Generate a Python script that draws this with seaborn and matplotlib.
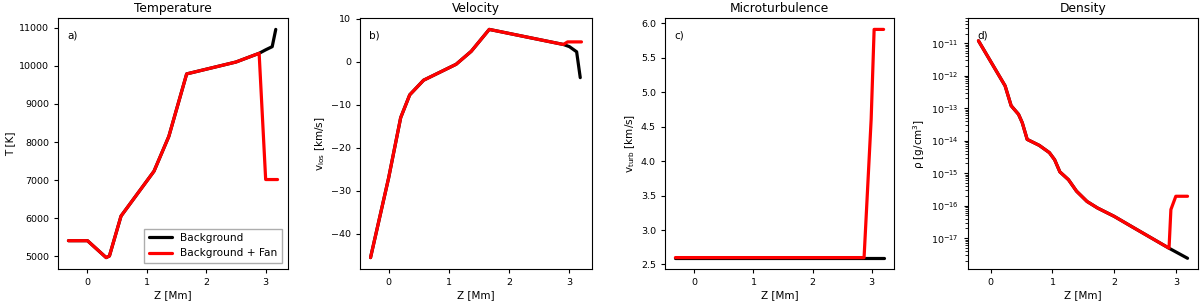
import numpy as np
import pandas as pd
import seaborn as sns
import matplotlib
matplotlib.use("Agg")
import matplotlib.pyplot as plt

# --- data (Z in Mm) ---
z_temp_bg = [-0.32, 0.0, 0.315, 0.37, 0.565, 1.12, 1.37, 1.67, 2.5, 2.89, 3.0, 3.11, 3.17]
temp_bg = [5410, 5410, 4966, 5010, 6056, 7233, 8148, 9788, 10100, 10329, 10420, 10503, 10956]
z_temp_fan = [-0.32, 0.0, 0.315, 0.37, 0.565, 1.12, 1.37, 1.67, 2.5, 2.89, 3.0, 3.2]
temp_fan = [5410, 5410, 4966, 5010, 6056, 7233, 8148, 9788, 10100, 10329, 7015, 7015]

z_vel_bg = [-0.3, 0.0, 0.2, 0.35, 0.58, 1.12, 1.37, 1.67, 2.9, 3.0, 3.12, 3.18]
vel_bg = [-45.5, -27.0, -13.0, -7.7, -4.3, -0.6, 2.4, 7.5, 4.0, 3.5, 2.3, -3.7]
z_vel_fan = [-0.3, 0.0, 0.2, 0.35, 0.58, 1.12, 1.37, 1.67, 2.9, 2.97, 3.2]
vel_fan = [-45.5, -27.0, -13.0, -7.7, -4.3, -0.6, 2.4, 7.5, 4.0, 4.6, 4.6]

z_turb_bg = [-0.32, 2.87, 3.2]
turb_bg = [2.6, 2.6, 2.6]
z_turb_fan = [-0.32, 2.87, 2.99, 3.04, 3.2]
turb_fan = [2.6, 2.6, 4.61, 5.91, 5.91]

z_rho_bg = [-0.2, 0.232, 0.33, 0.45, 0.51, 0.59, 0.786, 0.95, 1.035, 1.12, 1.26,
            1.39, 1.56, 1.73, 2.0, 2.28, 2.89, 3.19]
rho_bg = [1.2e-11, 4.9e-13, 1.2e-13, 6.5e-14, 3.6e-14, 1.1e-14, 7.2e-15, 4.3e-15,
          2.6e-15, 1.1e-15, 6.3e-16, 2.8e-16, 1.35e-16, 8.5e-17, 4.7e-17, 2.3e-17,
          4.9e-18, 2.4e-18]
z_rho_fan = [-0.2, 0.232, 0.33, 0.45, 0.51, 0.59, 0.786, 0.95, 1.035, 1.12, 1.26,
             1.39, 1.56, 1.73, 2.0, 2.28, 2.89, 2.92, 3.0, 3.19]
rho_fan = [1.2e-11, 4.9e-13, 1.2e-13, 6.5e-14, 3.6e-14, 1.1e-14, 7.2e-15, 4.3e-15,
           2.6e-15, 1.1e-15, 6.3e-16, 2.8e-16, 1.35e-16, 8.5e-17, 4.7e-17, 2.3e-17,
           4.9e-18, 7.6e-17, 1.95e-16, 1.95e-16]

panels = [
    ("Temperature", "T [K]", "a)", z_temp_bg, temp_bg, z_temp_fan, temp_fan),
    ("Velocity", r"v$_{\rm los}$ [km/s]", "b)", z_vel_bg, vel_bg, z_vel_fan, vel_fan),
    ("Microturbulence", r"v$_{\rm turb}$ [km/s]", "c)", z_turb_bg, turb_bg, z_turb_fan, turb_fan),
    ("Density", r"$\rm\rho$ [g/cm$^3$]", "d)", z_rho_bg, rho_bg, z_rho_fan, rho_fan),
]

sns.set_style("ticks")
plt.rcParams["font.family"] = ["DejaVu Sans"]
plt.rcParams.update({
    "xtick.labelsize": 6.8, "ytick.labelsize": 6.8,
    "xtick.major.size": 3, "ytick.major.size": 3,
    "text.color": "black", "axes.labelcolor": "black",
    "xtick.color": "black", "ytick.color": "black",
    "axes.edgecolor": "black",
})

fig = plt.figure(figsize=(12, 3.04), dpi=100)
lefts = [58, 360, 665, 968]
widths = [230, 232, 229, 230]

for i, (title, ylab, tag, zb, yb, zf, yf) in enumerate(panels):
    ax = fig.add_axes([lefts[i] / 1200, 35 / 304, widths[i] / 1200, 251 / 304])
    sns.lineplot(x=zb, y=yb, color="black", lw=2.3, sort=False, estimator=None,
                 ax=ax, label="Background")
    sns.lineplot(x=zf, y=yf, color="red", lw=2.3, sort=False, estimator=None,
                 ax=ax, label="Background + Fan")
    ax.set_title(title, fontsize=8.8, pad=4)
    ax.set_xlabel("Z [Mm]", fontsize=7.5, labelpad=2)
    ax.set_ylabel(ylab, fontsize=7.5, labelpad=3)
    ax.set_xticks([0, 1, 2, 3])
    ax.text(0.04, 0.93, tag, transform=ax.transAxes, fontsize=7.5, va="center")
    for s in ax.spines.values():
        s.set_linewidth(0.8)
    if i == 0:
        ax.legend(loc="lower right", fontsize=7.6, fancybox=False, edgecolor="0.6",
                  handlelength=2.2, borderaxespad=0.6)
    else:
        ax.get_legend().remove()
    if i == 1:
        ax.set_yticks([10, 0, -10, -20, -30, -40])
    if i == 2:
        ax.set_yticks(np.arange(2.5, 6.01, 0.5))
    if i == 3:
        ax.set_yscale("log")
        ax.set_ylim(10 ** -17.95, 10 ** -10.22)
        ax.set_yticks([1e-11, 1e-12, 1e-13, 1e-14, 1e-15, 1e-16, 1e-17])

fig.savefig("out.png", dpi=100)
